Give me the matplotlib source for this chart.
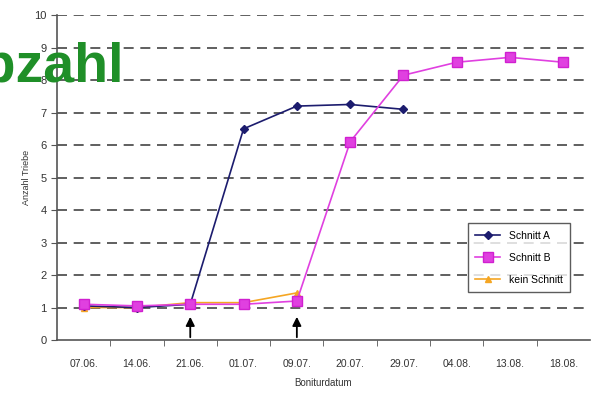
import matplotlib.pyplot as plt
import numpy as np

plt.rcParams['font.family'] = ['Liberation Sans', 'DejaVu Sans']

dates = ['07.06.', '14.06.', '21.06.', '01.07.', '09.07.', '20.07.', '29.07.', '04.08.', '13.08.', '18.08.']
schnitt_a = [1.05, 1.0, 1.1, 6.5, 7.2, 7.25, 7.1]
schnitt_b = [1.1, 1.05, 1.1, 1.1, 1.2, 6.1, 8.15, 8.55, 8.7, 8.55]
kein_schnitt = [1.0, 1.0, 1.15, 1.15, 1.45]
schnitt_termine = ['21.06.', '09.07.']

fig = plt.figure(figsize=(5.92, 3.98), dpi=100)
ax = fig.add_axes([0.0963, 0.1457, 0.9003, 0.8163])

x = np.arange(len(dates))
ax.plot(x[:len(kein_schnitt)], kein_schnitt, color='#f5a623', marker='^', markersize=5,
        lw=1.2, label='kein Schnitt', zorder=3)
ax.plot(x[:len(schnitt_a)], schnitt_a, color='#1c1c6e', marker='D', markersize=4,
        lw=1.2, label='Schnitt A', zorder=4)
ax.plot(x, schnitt_b, color='#e040e0', marker='s', markersize=7, mec='#d020d0',
        lw=1.2, label='Schnitt B', zorder=5)

# Pfeile fuer die Schnitttermine
for d in schnitt_termine:
    xi = dates.index(d)
    ax.annotate('', xy=(xi, 0.8), xytext=(xi, 0.0),
                arrowprops=dict(arrowstyle='-|>', color='black', lw=1.3, mutation_scale=13),
                annotation_clip=False, zorder=6)

ax.set_xlim(-0.5, len(dates) - 0.5)
ax.set_ylim(0, 10)
ax.set_yticks(range(0, 11))
ax.set_xticks(x)
ax.set_xticklabels(dates)
ax.set_xticks(np.arange(0.5, len(dates) - 0.5, 1), minor=True)
ax.tick_params(axis='x', which='major', length=0, pad=14, labelsize=7.5, labelcolor='#333333')
ax.tick_params(axis='x', which='minor', length=4, color='#555555', direction='out')
ax.tick_params(axis='y', length=4, color='#555555', labelsize=8, labelcolor='#333333')

for v in range(1, 11):
    ax.axhline(v, color='#444444', lw=1.2, ls=(0, (6, 4)), zorder=1)

for s in ['top', 'right']:
    ax.spines[s].set_visible(False)
for s in ['left', 'bottom']:
    ax.spines[s].set_color('#555555')
    ax.spines[s].set_linewidth(1.2)

ax.set_ylabel('Anzahl Triebe', fontsize=6.5, color='#333333', labelpad=2)
ax.set_xlabel('Boniturdatum', fontsize=7, color='#333333', labelpad=6)

handles, labels = ax.get_legend_handles_labels()
order = [1, 2, 0]
leg = ax.legend([handles[i] for i in order], [labels[i] for i in order],
                loc='lower right', bbox_to_anchor=(0.972, 0.132), fontsize=7.5,
                frameon=True, fancybox=False, edgecolor='#333333', handlelength=2.4,
                borderpad=0.7, labelspacing=1.15)
leg.get_frame().set_linewidth(1.0)

fig.text(124 / 592, 1 - 82 / 398, 'Triebzahl', ha='right', va='baseline', fontsize=40,
         fontweight='bold', color='#1f8f28')

fig.savefig('out.png', dpi=100)
